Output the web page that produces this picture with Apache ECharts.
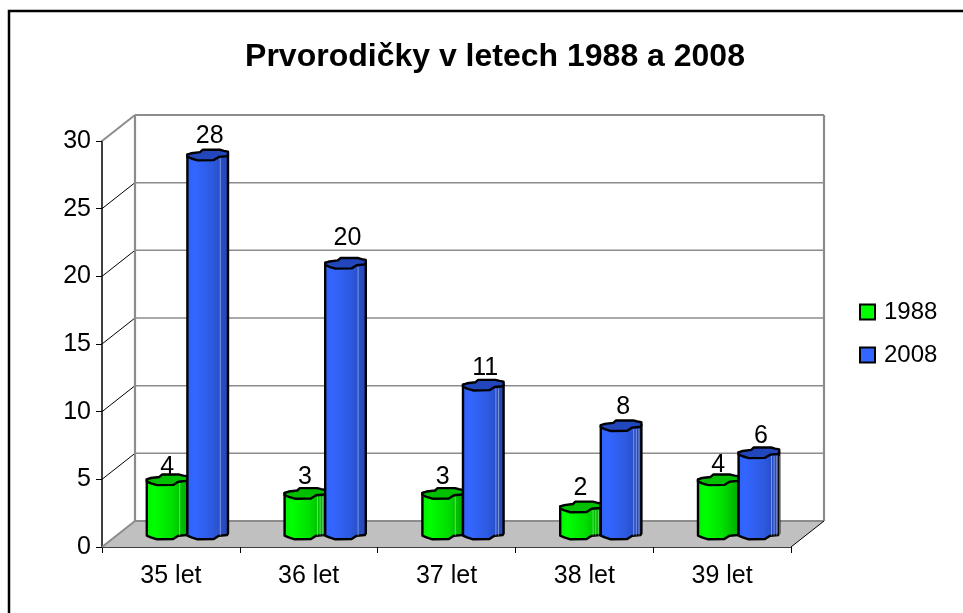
<!DOCTYPE html>
<html><head><meta charset="utf-8">
<style>html,body{margin:0;padding:0;background:#fff}#c{width:963px;height:613px}</style>
<script src="https://cdn.jsdelivr.net/npm/echarts@6/dist/echarts.min.js"></script>
</head><body><div id="c"></div>
<script>
const categories = ['35 let','36 let','37 let','38 let','39 let'];
const series1988 = [4,3,3,2,4];
const series2008 = [28,20,11,8,6];
const seriesNames = ['1988','2008'];
const yTicks = [0,5,10,15,20,25,30];
const titleText = 'Prvorodičky v letech 1988 a 2008';

// style / projection constants
const FONT = '"Liberation Sans", Arial, sans-serif';
const DX = 33, DY = 26;          // depth of the 3D box
const BW = 20.3, BH = 5.3;       // half width / half depth of a column
const FACETS = {'1988':[1,3,1,3,0], '2008':[1,1,2,3,4]};
const LABEL_NUDGE = {'1988':[6,3,3,0,4], '2008':[0,-6,2,0,2]};
const GREY = '#8c8c8c';

const chart = echarts.init(document.getElementById('c'), null, {renderer:'canvas'});

// column cross-section, normalised
const back = [[-1,-.1],[-.8,-.35],[-.38,-.55],[-.25,-1],[.6,-1],[.8,-.8],[1,-.65],[1,-.1]];
const front = [[1,-.1],[.95,.2],[.55,.35],[.3,.95],[-.5,1],[-.8,.65],[-1,.3],[-1,-.1]];

function columnItem(colors, side, name){
  return function(params, api){
    const i = api.value(0), v = api.value(1);
    const base = api.coord([i,0]), top = api.coord([i,v]);
    const cx = base[0] + DX/2 + side*BW, by = base[1] - DY/2, ty = top[1] - DY/2;
    const p = (pt, y) => [cx + pt[0]*BW, y + pt[1]*BH];
    const body = [p(front[0],ty)]
      .concat(front.map(q=>p(q,by)))
      .concat([p(front[front.length-1],ty)]);
    const topPoly = back.concat(front.slice(1)).map(q=>p(q,ty));
    const kids = [
      {type:'polygon',shape:{points:body},style:{
        fill:new echarts.graphic.LinearGradient(0,0,1,0,colors.slice(0,4).map((c,k)=>({offset:[0,.2,.6,1][k],color:c}))),
        stroke:'#000',lineWidth:2.4,lineJoin:'round'}}
    ];
    const n = FACETS[name][params.dataIndex];
    for(let k=0;k<n;k++){
      const fx = cx + BW*(.62 + k*.13);
      kids.push({type:'line',shape:{x1:fx,y1:ty+BH*.6,x2:fx,y2:by+BH*.3},
        style:{stroke:'rgba(255,255,255,.4)',lineWidth:1}});
    }
    kids.push({type:'polygon',shape:{points:topPoly},style:{fill:colors[4],stroke:'#000',lineWidth:2.4,lineJoin:'round'}});
    kids.push({type:'text',style:{text:String(v),x:cx+(side>0?2:0),y:ty-19+LABEL_NUDGE[name][params.dataIndex],align:'center',verticalAlign:'middle',
      font:'25px '+FONT,fill:'#000'}});
    return {type:'group',children:kids};
  };
}

function wallItem(params, api){
  const band = api.size([1,0])[0];
  const n = categories.length;
  const o = api.coord([0,0]);
  const x0 = o[0] - band/2;
  const x1 = api.coord([n-1,0])[0] + band/2;
  const y0 = o[1];
  const yTop = api.coord([0,yTicks[yTicks.length-1]])[1];
  const kids = [];
  kids.push({type:'polygon',shape:{points:[[x0,y0],[x0+DX,y0-DY],[x1+DX,y0-DY],[x1,y0]]},
    style:{fill:'#c0c0c0',stroke:null}});
  yTicks.forEach(t=>{
    const y = api.coord([0,t])[1];
    const end = t===0||t===yTicks[yTicks.length-1];
    kids.push({type:'line',shape:{x1:x0+DX,y1:y-DY,x2:x1+DX,y2:y-DY},
      style:{stroke:GREY,lineWidth:end?2.2:1.5}});
    kids.push({type:'line',shape:{x1:x0,y1:y,x2:x0+DX,y2:y-DY},
      style:{stroke:end?GREY:'#000',lineWidth:end?2:1}});
  });
  kids.push({type:'line',shape:{x1:x0+DX,y1:yTop-DY,x2:x0+DX,y2:y0-DY},style:{stroke:GREY,lineWidth:2.2}});
  kids.push({type:'line',shape:{x1:x1+DX,y1:yTop-DY,x2:x1+DX,y2:y0-DY},style:{stroke:GREY,lineWidth:2.2}});
  kids.push({type:'line',shape:{x1:x1,y1:y0,x2:x1+DX,y2:y0-DY},style:{stroke:'#000',lineWidth:1}});
  return {type:'group',children:kids};
}

chart.setOption({
  animation:false,
  backgroundColor:'#fff',
  title:{text:titleText,left:490,top:36,textAlign:'center',
    textStyle:{fontFamily:FONT,fontWeight:'bold',fontSize:32,color:'#000'}},
  legend:{
    data:seriesNames,left:854,top:295,orient:'vertical',itemWidth:15,itemHeight:15,itemGap:19,
    icon:'rect',textStyle:{fontFamily:FONT,fontSize:24,color:'#000',padding:[0,0,0,4]},
    selectedMode:false
  },
  grid:{left:102,top:141,width:689,height:406},
  xAxis:{type:'category',data:categories,boundaryGap:true,
    axisLine:{show:true,lineStyle:{color:'#000',width:1.5}},
    axisTick:{show:true,length:6,alignWithLabel:false,lineStyle:{color:'#000',width:1}},
    axisLabel:{fontFamily:FONT,fontSize:25,color:'#000',margin:17},
    splitLine:{show:false}},
  yAxis:{type:'value',min:0,max:30,interval:5,
    axisLine:{show:true,lineStyle:{color:'#000',width:1.5}},
    axisTick:{show:true,length:6,lineStyle:{color:'#000',width:1}},
    axisLabel:{fontFamily:FONT,fontSize:25,color:'#000',margin:11},
    splitLine:{show:false}},
  graphic:[{type:'polyline',shape:{points:[[9,613],[9,11],[963,11]]},style:{stroke:'#000',lineWidth:2.5,fill:null}}],
  series:[
    {type:'custom',silent:true,data:[[0,0]],renderItem:wallItem,z:1,clip:false,legendHoverLink:false,tooltip:{show:false}},
    {name:seriesNames[0],type:'custom',z:2,clip:false,
      itemStyle:{color:'#00ff00',borderColor:'#000',borderWidth:1.5},
      data:series1988.map((v,i)=>[i,v]),
      encode:{x:0,y:1},
      renderItem:columnItem(['#00f000','#00ff00','#00e000','#00a800','#00c000'],-1,'1988')},
    {name:seriesNames[1],type:'custom',z:3,clip:false,
      itemStyle:{color:'#3366ff',borderColor:'#000',borderWidth:1.5},
      data:series2008.map((v,i)=>[i,v]),
      encode:{x:0,y:1},
      renderItem:columnItem(['#2f62f8','#3366ff','#2d5ae0','#2444b0','#2246bc'],1,'2008')}
  ]
});
</script></body></html>
